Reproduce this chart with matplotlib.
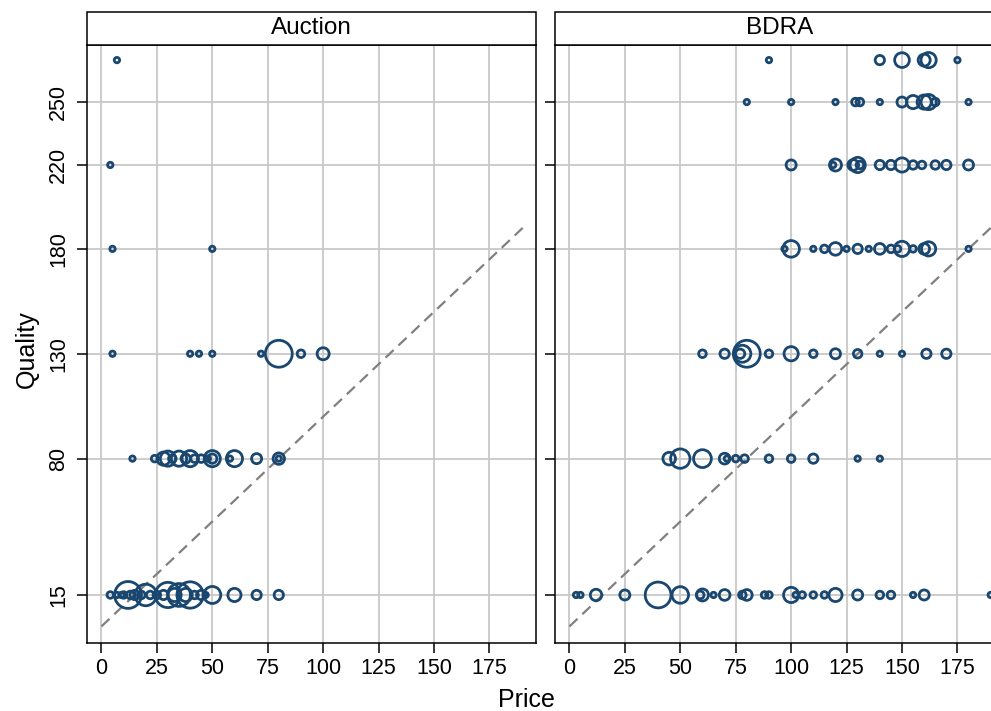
import matplotlib.pyplot as plt
from matplotlib.patches import Rectangle

plt.rcParams['font.family'] = ['Liberation Sans', 'DejaVu Sans']

# quality levels shown on the y axis
ytick_vals = [15, 80, 130, 180, 220, 250]
xtick_vals = [0, 25, 50, 75, 100, 125, 150, 175]

# Auction panel: price, quality, weight (marker area)
auc_price = [7,
             4,
             5, 50,
             5, 40, 44, 50, 72, 80, 90, 100,
             14, 24, 28, 30, 32, 35, 38, 40, 42, 45, 48, 50, 50, 58, 60, 70, 80, 80,
             4, 7, 9, 10, 12, 13, 15, 18, 20, 22, 25, 28, 30, 33, 35, 38, 40, 42,
             45, 47, 50, 60, 70, 80]
auc_quality = [270,
               220,
               180, 180,
               130, 130, 130, 130, 130, 130, 130, 130,
               80, 80, 80, 80, 80, 80, 80, 80, 80, 80, 80, 80, 80, 80, 80, 80, 80, 80,
               15, 15, 15, 15, 15, 15, 15, 15, 15, 15, 15, 15, 15, 15, 15, 15, 15, 15,
               15, 15, 15, 15, 15, 15]
auc_weight = [1,
              1,
              1, 1,
              1, 1, 1, 1, 1, 25, 2, 5,
              1, 1.5, 6, 8, 2, 8, 3, 9, 2, 2, 1, 9, 3, 1, 9, 3.5, 4.5, 1,
              1.5, 1, 1, 1.5, 25, 2, 3, 2, 16, 2, 2, 3, 22, 6, 18, 6, 24, 2,
              3, 1, 10, 6, 3, 3]

# BDRA panel
bdra_price = [90, 140, 150, 160, 162, 175,
              80, 100, 120, 129, 131, 140, 150, 155, 160, 162, 165, 180,
              100, 119, 120, 128, 130, 131, 140, 145, 150, 155, 159, 165, 170, 180,
              97, 100, 110, 115, 120, 125, 130, 135, 140, 145, 148, 150, 155, 160, 162, 180,
              60, 70, 77, 78, 80, 90, 100, 110, 120, 130, 140, 150, 161, 170,
              45, 50, 60, 70, 71, 75, 79, 90, 100, 110, 130, 140,
              3, 5, 12, 25, 40, 50, 59, 60, 65, 70, 78, 80, 88, 90, 100, 102, 105,
              110, 115, 120, 130, 140, 145, 155, 160, 190]
bdra_quality = [270] * 6 + [250] * 12 + [220] * 14 + [180] * 16 + [130] * 14 \
    + [80] * 12 + [15] * 26
bdra_weight = [1, 3, 7.5, 5, 8, 1,
               1, 1, 1, 2, 2, 1, 3.5, 6, 7, 8, 2, 1,
               3.5, 1, 5, 4, 8, 2, 3, 3, 7, 2.5, 2, 2.5, 3, 3.5,
               1, 9.5, 1, 2, 5.5, 1, 3, 1, 4, 2, 1.5, 8, 1.5, 4, 7, 1,
               2, 3, 3, 10, 25, 2, 7, 2, 3.5, 2.5, 1, 1, 3, 3,
               5.5, 13, 11, 4, 1, 1.5, 2, 2, 2, 3, 1, 1,
               1, 1, 4.5, 3.5, 23, 9.5, 2, 5, 1, 4, 2, 4, 1.5, 1.5, 8, 1, 1.5,
               1.5, 1.5, 6, 3.5, 2, 2, 1, 3.5, 1]

W, H = 991, 711
fig = plt.figure(figsize=(W / 100, H / 100), dpi=100)

navy = '#1a476f'
panels = [('Auction', auc_price, auc_quality, auc_weight, 87),
          ('BDRA', bdra_price, bdra_quality, bdra_weight, 555)]
ax_w, top, bottom = 449, 45, 643

for title, px, qy, wt, left in panels:
    ax = fig.add_axes([left / W, (H - bottom) / H, ax_w / W, (bottom - top) / H])
    ax.set_xlim(-6.5, 196)
    ax.set_ylim(-7.9, 277.2)
    ax.set_xticks(xtick_vals)
    ax.set_yticks(ytick_vals)
    ax.grid(True, color='#c8c8c8', linewidth=1.3)
    ax.set_axisbelow(True)
    ax.plot([0, 190], [0, 190], color='#808080', linestyle=(0, (5, 3)),
            linewidth=1.6, zorder=2)
    ax.scatter(px, qy, s=[15 * w for w in wt], facecolors='none',
               edgecolors=navy, linewidths=2.0, zorder=3)
    ax.tick_params(axis='both', labelsize=15.5, length=7, width=1.1)
    ax.tick_params(axis='y', pad=6)
    for sp in ax.spines.values():
        sp.set_linewidth(1.1)
    if left == 87:
        ax.set_yticklabels([str(v) for v in ytick_vals], rotation=90, va='center')
    else:
        ax.set_yticklabels([])
    # strip title above the panel
    fig.patches.append(Rectangle((left / W, (H - top) / H), ax_w / W, 33 / H,
                                 transform=fig.transFigure, facecolor='white',
                                 edgecolor='black', linewidth=1.1))
    fig.text((left + ax_w / 2) / W, (H - 28.5) / H, title, ha='center',
             va='center', fontsize=17.5)

fig.text(526 / W, (H - 700) / H, 'Price', ha='center', va='center', fontsize=18)
fig.text(27 / W, (H - 349) / H, 'Quality', ha='center', va='center',
         rotation=90, fontsize=18)

fig.savefig('out.png', dpi=100)
